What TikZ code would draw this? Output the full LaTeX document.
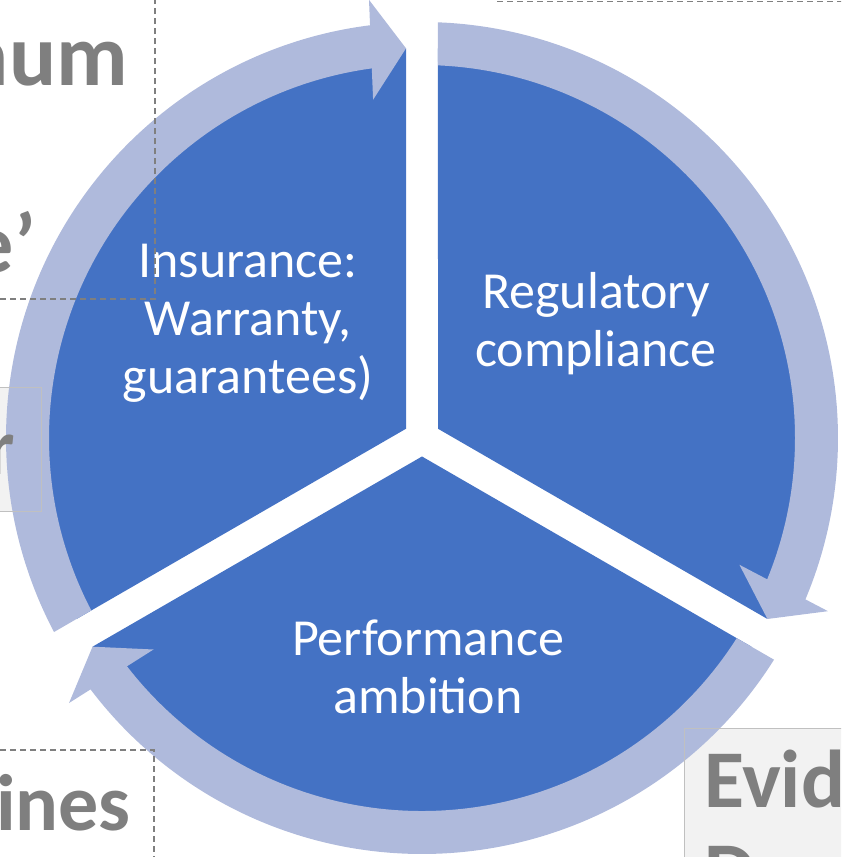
\documentclass[tikz,border=0pt]{standalone}
\usepackage{fontspec}
\setmainfont{Carlito}
\usetikzlibrary{calc}
\definecolor{segblue}{HTML}{4472C4}
\definecolor{ringblue}{HTML}{AFBADC}
\definecolor{textgray}{HTML}{7F7F7F}
\definecolor{boxfill}{HTML}{F2F2F2}
\definecolor{boxline}{HTML}{C0C0C0}
\begin{document}
\begin{tikzpicture}[x=1pt, y=-1pt,
    seglabel/.style={text=white, align=center, inner sep=0pt, font=\fontsize{52}{58}\selectfont},
    sidetext/.style={text=textgray, inner sep=0pt, font=\bfseries\fontsize{80}{94}\selectfont},
    guide/.style={textgray, line width=1.3pt, dash pattern=on 6pt off 4pt}]
            \useasboundingbox (0,0) rectangle (841,857);
            \clip (0,0) rectangle (841,857);
            \coordinate (C) at (422,438);
            % boxes behind the cycle
            \fill[boxfill] (-10,387) rectangle (41,511);
            \fill[boxfill] (684,728) rectangle (860,870);
            % three segments, gap 32
            \foreach \A in {150,270,30}{
                \fill[segblue] ([shift={(\A+60:18.48)}]C) -- ([shift={(\A+2.35:390)}]C)
                    arc[start angle=\A+2.35, end angle=\A+117.65, radius=390] -- cycle;
            }
            % clockwise arrows round the ring
            \foreach \A [evaluate=\A as \T using \A+117.65] in {150,270,30}{
                \fill[ringblue] ([shift={(\A+2.2:416)}]C)
                    arc[start angle=\A+2.2, end angle=\A+113, radius=416]
                    -- ([shift={(\A+113:373)}]C)
                    arc[start angle=\A+113, end angle=\A+2.46, radius=373] -- cycle;
                \coordinate (tip) at ([shift={(\T:390)}]C);
                \fill[ringblue] (tip) -- ($(tip)+(\T-90:35)+(\T:50)$)
                    -- ($(tip)+(\T-90:35)+(\T:-50)$) -- cycle;
            }
            % boxes and texts of the slide round it
            \draw[boxline, line width=1pt] (-10,387) rectangle (41,511);
            \draw[boxline, line width=1pt] (684,728) rectangle (860,870);
            \node[sidetext, anchor=base east, font=\bfseries\fontsize{88}{100}\selectfont] (num) at (128,85) {num};
            \node[sidetext, anchor=base east, font=\bfseries\fontsize{84}{96}\selectfont] (quote) at (36,272) {e’};
            \node[sidetext, anchor=base east] (rbox) at (15,474) {r};
            \node[sidetext, anchor=base east] (ines) at (131,830) {ines};
            \node[sidetext, anchor=base west, font=\bfseries\fontsize{82}{92}\selectfont] (evid) at (704,807) {Evid};
            \node[sidetext, anchor=base west, font=\bfseries\fontsize{82}{92}\selectfont] (evidb) at (704,899) {D};
            % segment labels
            \node[seglabel] (insurance) at (248,323) {Insurance:\\Warranty,\\guarantees)};
            \node[seglabel] (regulatory) at (596,324) {Regulatory\\compliance};
            \node[seglabel] (performance) at (428,667) {Performance\\ambition};
            % dashed frames
            \draw[guide] (0,299) -- (155,299) -- (155,-5);
            \draw[guide] (0,750) -- (154,750) -- (154,862);
            \draw[guide] (497,1.5) -- (846,1.5);
\end{tikzpicture}
\end{document}
